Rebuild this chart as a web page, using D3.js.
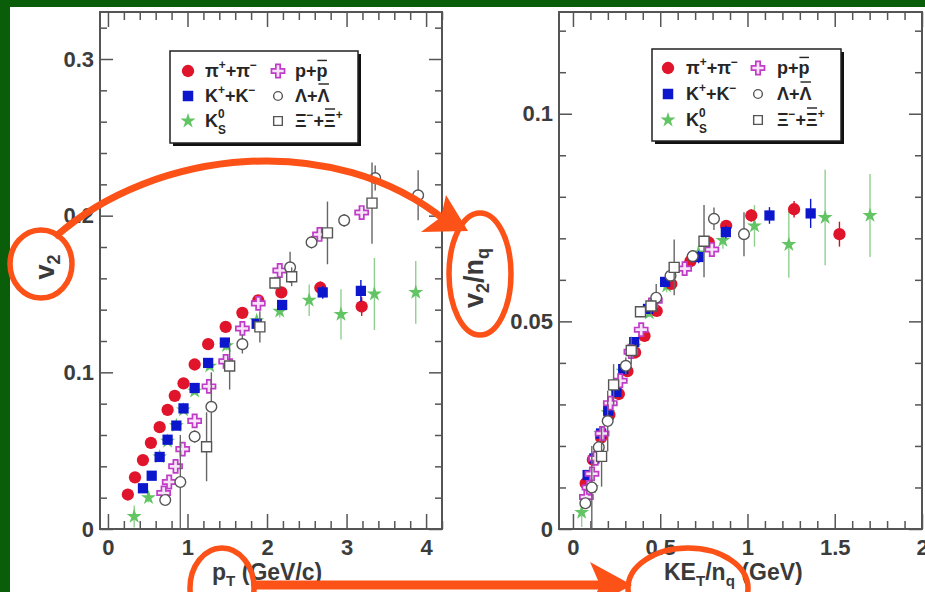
<!DOCTYPE html>
<html>
<head>
<meta charset="utf-8">
<script src="https://cdn.jsdelivr.net/npm/d3@7"></script>
<style>
  html, body { margin: 0; padding: 0; background: #fff; }
  svg { display: block; }
</style>
</head>
<body>
<svg id="chart" width="925" height="592"></svg>
<script>
// ---------- v2 versus pT (GeV/c) ----------
const pionPt   = [0.25, 0.34, 0.44, 0.54, 0.65, 0.75, 0.84, 0.95, 1.09, 1.26, 1.48, 1.69, 1.89, 2.18, 2.67, 3.19];
const pionV2   = [0.022, 0.033, 0.044, 0.055, 0.065, 0.076, 0.085, 0.093, 0.105, 0.118, 0.129, 0.138, 0.146, 0.151, 0.154, 0.142];
const pionErr  = [0.002, 0.002, 0.002, 0.002, 0.002, 0.002, 0.002, 0.002, 0.002, 0.002, 0.002, 0.002, 0.002, 0.003, 0.004, 0.006];

const kaonPt   = [0.44, 0.55, 0.65, 0.75, 0.86, 0.95, 1.09, 1.26, 1.47, 1.87, 2.19, 2.70, 3.18];
const kaonV2   = [0.026, 0.034, 0.046, 0.057, 0.066, 0.077, 0.090, 0.106, 0.119, 0.131, 0.143, 0.151, 0.152];
const kaonErr  = [0.002, 0.002, 0.002, 0.002, 0.002, 0.002, 0.002, 0.002, 0.002, 0.003, 0.003, 0.004, 0.007];

const k0sPt    = [0.33, 0.51, 0.65, 0.75, 0.86, 0.95, 1.09, 1.28, 1.49, 1.87, 2.16, 2.53, 2.93, 3.35, 3.87];
const k0sV2    = [0.008, 0.020, 0.046, 0.056, 0.066, 0.076, 0.088, 0.104, 0.117, 0.133, 0.139, 0.146, 0.137, 0.150, 0.151];
const k0sErr   = [0.007, 0.003, 0.002, 0.002, 0.002, 0.002, 0.002, 0.002, 0.003, 0.003, 0.004, 0.010, 0.016, 0.023, 0.020];

const protonPt  = [0.70, 0.77, 0.85, 0.94, 1.09, 1.27, 1.48, 1.69, 1.89, 2.16, 2.66, 3.19];
const protonV2  = [0.023, 0.030, 0.040, 0.051, 0.069, 0.091, 0.107, 0.128, 0.144, 0.165, 0.188, 0.202];
const protonErr = [0.002, 0.002, 0.002, 0.002, 0.002, 0.002, 0.002, 0.002, 0.002, 0.003, 0.004, 0.004];

const lambdaPt  = [0.72, 0.91, 1.09, 1.30, 1.69, 2.29, 2.56, 2.97, 3.36, 3.90];
const lambdaV2  = [0.0185, 0.030, 0.059, 0.078, 0.118, 0.167, 0.183, 0.197, 0.224, 0.213];
const lambdaErr = [0.003, 0.030, 0.004, 0.022, 0.006, 0.010, 0.004, 0.004, 0.008, 0.016];

const xiPt   = [1.24, 1.53, 1.91, 2.10, 2.31, 2.76, 3.32];
const xiV2   = [0.0525, 0.104, 0.129, 0.157, 0.161, 0.189, 0.208];
const xiErr  = [0.022, 0.015, 0.010, 0.004, 0.006, 0.020, 0.026];

// ---------- v2/nq versus KE_T/nq (GeV) ----------
const pionKE    = [0.073, 0.114, 0.161, 0.209, 0.263, 0.312, 0.356, 0.410, 0.480, 0.564, 0.673, 0.778, 0.878, 1.022, 1.267, 1.527];
const pionV2nq  = [0.011, 0.0167, 0.022, 0.0275, 0.0325, 0.038, 0.0425, 0.0465, 0.0525, 0.059, 0.0645, 0.069, 0.073, 0.0755, 0.077, 0.071];
const pionErrNq = [0.001, 0.001, 0.001, 0.001, 0.001, 0.001, 0.001, 0.001, 0.001, 0.001, 0.001, 0.001, 0.001, 0.0015, 0.002, 0.003];

const kaonKE    = [0.084, 0.123, 0.161, 0.202, 0.249, 0.288, 0.351, 0.430, 0.528, 0.720, 0.876, 1.126, 1.362];
const kaonV2nq  = [0.013, 0.017, 0.023, 0.0285, 0.033, 0.0385, 0.045, 0.053, 0.0595, 0.0655, 0.0715, 0.0755, 0.076];
const kaonErrNq = [0.001, 0.001, 0.001, 0.001, 0.001, 0.001, 0.001, 0.001, 0.001, 0.0015, 0.0015, 0.002, 0.0035];

const k0sKE     = [0.050, 0.107, 0.160, 0.201, 0.248, 0.287, 0.350, 0.438, 0.537, 0.719, 0.859, 1.040, 1.237, 1.445, 1.702];
const k0sV2nq   = [0.004, 0.010, 0.023, 0.028, 0.033, 0.038, 0.044, 0.052, 0.0585, 0.0665, 0.0695, 0.073, 0.0685, 0.075, 0.0755];
const k0sErrNq  = [0.0035, 0.0015, 0.001, 0.001, 0.001, 0.001, 0.001, 0.001, 0.0015, 0.0015, 0.002, 0.005, 0.008, 0.0115, 0.010];

const protonKE    = [0.077, 0.092, 0.109, 0.130, 0.167, 0.214, 0.271, 0.332, 0.391, 0.472, 0.640, 0.796];
const protonV2nq  = [0.0077, 0.010, 0.0133, 0.017, 0.023, 0.0303, 0.0357, 0.0427, 0.048, 0.055, 0.0627, 0.0673];
const protonErrNq = [0.0007, 0.0007, 0.0007, 0.0007, 0.0007, 0.0007, 0.0007, 0.0007, 0.0007, 0.001, 0.0013, 0.0013];

const lambdaKE    = [0.071, 0.108, 0.148, 0.199, 0.303, 0.477, 0.559, 0.686, 0.808, 0.980];
const lambdaV2nq  = [0.0062, 0.010, 0.0197, 0.026, 0.0393, 0.0557, 0.061, 0.0657, 0.0747, 0.071];
const lambdaErrNq = [0.001, 0.010, 0.0015, 0.0073, 0.002, 0.0033, 0.0015, 0.0015, 0.0027, 0.0053];

const xiKE    = [0.164, 0.233, 0.334, 0.387, 0.447, 0.580, 0.751];
const xiV2nq  = [0.0175, 0.0347, 0.043, 0.0523, 0.0537, 0.063, 0.0693];
const xiErrNq = [0.0073, 0.005, 0.0033, 0.0013, 0.002, 0.0067, 0.0087];

// ---------- tick labels ----------
const leftXTicks  = [0, 1, 2, 3, 4];
const leftYTicks  = [0, 0.1, 0.2, 0.3];
const rightXTicks = [0, 0.5, 1, 1.5, 2];
const rightYTicks = [0, 0.05, 0.1];

// ---------- drawing ----------
const FONT = "'Liberation Sans', Arial, Helvetica, sans-serif";
const ORANGE = "#fc5117";
const svg = d3.select("#chart");

// green slide border and white page
svg.append("rect").attr("width", 925).attr("height", 592).attr("fill", "#0a5e0a");
svg.append("rect").attr("x", 10).attr("y", 7).attr("width", 915).attr("height", 585).attr("fill", "#ffffff");

const xL = d3.scaleLinear().domain([-0.1, 4.2]).range([100, 442]);
const yL = d3.scaleLinear().domain([0, 0.33]).range([529, 12]);
const xR = d3.scaleLinear().domain([-0.08, 2.0]).range([559, 922]);
const yR = d3.scaleLinear().domain([0, 0.1245]).range([529, 12]);

// text with sub/superscripts and overbars, laid out piece by piece
function rich(parent, segs, o) {
  const fs = o.size;
  const g = parent.append("g").attr("transform", o.transform || null);
  const inner = g.append("g");
  let cx = 0, stackW = 0;
  segs.forEach(s => {
    const small = s.sup || s.sub;
    const size = small ? fs * 0.66 : fs;
    const dy = s.sup ? -fs * (s.stack ? 0.5 : 0.42) : s.sub ? fs * (s.low ? 0.4 : 0.24) : 0;
    const t = inner.append("text")
      .attr("x", cx).attr("y", dy)
      .attr("font-family", FONT).attr("font-size", size)
      .attr("font-weight", o.weight || "normal")
      .attr("fill", o.fill || "#222")
      .text(s.t);
    const w = t.node().getComputedTextLength();
    if (s.bar) {
      inner.append("line")
        .attr("x1", cx + w * 0.08).attr("x2", cx + w * 0.95)
        .attr("y1", -fs * s.bar).attr("y2", -fs * s.bar)
        .attr("stroke", o.fill || "#222").attr("stroke-width", fs * 0.08);
    }
    if (s.stack) { stackW = w; }
    else { cx += Math.max(w, stackW) + (s.gap || 0); stackW = 0; }
  });
  const shift = o.anchor === "middle" ? -cx / 2 : o.anchor === "end" ? -cx : 0;
  inner.attr("transform", `translate(${shift},0)`);
  return g;
}

// marker styles
const STY = {
  pion:   { sym: d3.symbolCircle, size: 118, fill: "#e0142a", stroke: "none", err: "#d01020" },
  kaon:   { sym: d3.symbolSquare, size: 105, fill: "#0c16cc", stroke: "none", err: "#0c16cc" },
  k0s:    { sym: d3.symbolStar,   size: 70,  fill: "#62c462", stroke: "none", err: "#8fd08f" },
  proton: { sym: d3.symbolCross,  size: 95,  fill: "#f8e4f8", stroke: "#c03cc8", err: "#c03cc8", sw: 1.7 },
  lambda: { sym: d3.symbolCircle, size: 90,  fill: "#ffffff", stroke: "#555555", err: "#666666", sw: 1.4 },
  xi:     { sym: d3.symbolSquare, size: 100, fill: "#ffffff", stroke: "#555555", err: "#666666", sw: 1.4 }
};

function series(g, xs, ys, es, xS, yS, st) {
  const d = xs.map((x, i) => ({ x, y: ys[i], e: es[i] }));
  g.append("g").selectAll("line").data(d).join("line")
    .attr("x1", p => xS(p.x)).attr("x2", p => xS(p.x))
    .attr("y1", p => yS(p.y - p.e)).attr("y2", p => yS(p.y + p.e))
    .attr("stroke", st.err).attr("stroke-width", 1.4);
  g.append("g").selectAll("path").data(d).join("path")
    .attr("transform", p => `translate(${xS(p.x)},${yS(p.y)})`)
    .attr("d", d3.symbol().type(st.sym).size(st.size))
    .attr("fill", st.fill).attr("stroke", st.stroke).attr("stroke-width", st.sw || 0);
}

function frame(xS, yS, xMajor, xMinor, yMajor, yMinor, xFmt, yFmt) {
  const [x0, x1] = xS.range(), [y0, y1] = yS.range();
  const g = svg.append("g");
  const tickStyle = sel => {
    sel.select(".domain").remove();
    sel.selectAll(".tick line").attr("stroke", "#555").attr("stroke-width", 1.5);
    sel.selectAll(".tick text").attr("font-family", FONT).attr("font-size", 22)
      .attr("font-weight", "bold").attr("fill", "#3c3c3c");
  };
  // bottom and top
  g.append("g").attr("transform", `translate(0,${y0})`)
    .call(d3.axisBottom(xS).tickValues(xMajor).tickSize(-15).tickPadding(10).tickFormat(xFmt)).call(tickStyle);
  g.append("g").attr("transform", `translate(0,${y0})`)
    .call(d3.axisBottom(xS).tickValues(xMinor).tickSize(-8).tickFormat("")).call(tickStyle);
  g.append("g").attr("transform", `translate(0,${y1})`)
    .call(d3.axisTop(xS).tickValues(xMajor).tickSize(-15).tickFormat("")).call(tickStyle);
  g.append("g").attr("transform", `translate(0,${y1})`)
    .call(d3.axisTop(xS).tickValues(xMinor).tickSize(-8).tickFormat("")).call(tickStyle);
  // left and right
  g.append("g").attr("transform", `translate(${x0},0)`)
    .call(d3.axisLeft(yS).tickValues(yMajor).tickSize(-13).tickPadding(6).tickFormat(yFmt)).call(tickStyle);
  g.append("g").attr("transform", `translate(${x0},0)`)
    .call(d3.axisLeft(yS).tickValues(yMinor).tickSize(-7).tickFormat("")).call(tickStyle);
  g.append("g").attr("transform", `translate(${x1},0)`)
    .call(d3.axisRight(yS).tickValues(yMajor).tickSize(-13).tickFormat("")).call(tickStyle);
  g.append("g").attr("transform", `translate(${x1},0)`)
    .call(d3.axisRight(yS).tickValues(yMinor).tickSize(-7).tickFormat("")).call(tickStyle);
  g.append("rect").attr("x", x0).attr("y", y1).attr("width", x1 - x0).attr("height", y0 - y1)
    .attr("fill", "none").attr("stroke", "#555").attr("stroke-width", 2);
}

const minors = (lo, hi, step, majors) =>
  d3.range(lo, hi + step / 2, step).map(v => +v.toFixed(4)).filter(v => !majors.some(m => Math.abs(m - v) < 1e-6));

frame(xL, yL, leftXTicks, minors(0.2, 4.2, 0.2, leftXTicks), leftYTicks, minors(0.02, 0.32, 0.02, leftYTicks),
      d => d3.format("d")(d), d => d === 0 ? "0" : d3.format(".1f")(d));
frame(xR, yR, rightXTicks, minors(0.1, 1.9, 0.1, rightXTicks), rightYTicks, minors(0.01, 0.12, 0.01, rightYTicks),
      d => String(d), d => String(d));

// data marks
const gl = svg.append("g");
series(gl, k0sPt, k0sV2, k0sErr, xL, yL, STY.k0s);
series(gl, pionPt, pionV2, pionErr, xL, yL, STY.pion);
series(gl, kaonPt, kaonV2, kaonErr, xL, yL, STY.kaon);
series(gl, protonPt, protonV2, protonErr, xL, yL, STY.proton);
series(gl, lambdaPt, lambdaV2, lambdaErr, xL, yL, STY.lambda);
series(gl, xiPt, xiV2, xiErr, xL, yL, STY.xi);

const gr = svg.append("g");
series(gr, k0sKE, k0sV2nq, k0sErrNq, xR, yR, STY.k0s);
series(gr, pionKE, pionV2nq, pionErrNq, xR, yR, STY.pion);
series(gr, kaonKE, kaonV2nq, kaonErrNq, xR, yR, STY.kaon);
series(gr, protonKE, protonV2nq, protonErrNq, xR, yR, STY.proton);
series(gr, lambdaKE, lambdaV2nq, lambdaErrNq, xR, yR, STY.lambda);
series(gr, xiKE, xiV2nq, xiErrNq, xR, yR, STY.xi);

// legends
const legendRows = [
  [{ key: "pion", segs: [{ t: "π" }, { t: "+", sup: 1 }, { t: "+" }, { t: "π" }, { t: "−", sup: 1 }] },
   { key: "proton", segs: [{ t: "p" }, { t: "+" }, { t: "p", bar: 0.92 }] }],
  [{ key: "kaon", segs: [{ t: "K" }, { t: "+", sup: 1 }, { t: "+" }, { t: "K" }, { t: "−", sup: 1 }] },
   { key: "lambda", segs: [{ t: "Λ" }, { t: "+" }, { t: "Λ", bar: 1.0 }] }],
  [{ key: "k0s", segs: [{ t: "K" }, { t: "0", sup: 1, stack: 1 }, { t: "S", sub: 1, low: 1 }] },
   { key: "xi", segs: [{ t: "Ξ" }, { t: "−", sup: 1 }, { t: "+" }, { t: "Ξ", bar: 1.0 }, { t: "+", sup: 1 }] }]
];
const legendMarkSize = { pion: 120, kaon: 110, k0s: 70, proton: 95, lambda: 60, xi: 75 };

function legend(bx, by, bw, bh, rowY, colMark, colText) {
  const g = svg.append("g");
  g.append("rect").attr("x", bx + 3).attr("y", by + 3).attr("width", bw).attr("height", bh).attr("fill", "#111");
  g.append("rect").attr("x", bx).attr("y", by).attr("width", bw).attr("height", bh)
    .attr("fill", "#fff").attr("stroke", "#222").attr("stroke-width", 1.5);
  legendRows.forEach((row, r) => {
    row.forEach((item, c) => {
      const st = STY[item.key];
      g.append("path")
        .attr("transform", `translate(${colMark[c]},${rowY[r]})`)
        .attr("d", d3.symbol().type(st.sym).size(legendMarkSize[item.key]))
        .attr("fill", st.fill).attr("stroke", st.stroke).attr("stroke-width", st.sw || 0);
      rich(g, item.segs, { size: 18, weight: "bold", fill: "#262626", transform: `translate(${colText[c]},${rowY[r] + 6})` });
    });
  });
}
legend(170, 51, 188, 92, [71, 96, 121], [188, 278], [205, 295]);
legend(652, 49, 189, 92, [68, 94, 120], [668, 758], [686, 777]);

// axis titles
const TS = { size: 27, weight: "bold", fill: "#3a3a3a", anchor: "middle" };
rich(svg, [{ t: "v" }, { t: "2", sub: 1 }], { ...TS, transform: "translate(54,267) rotate(-90)" });
rich(svg, [{ t: "v" }, { t: "2", sub: 1 }, { t: "/" }, { t: "n" }, { t: "q", sub: 1 }], { ...TS, transform: "translate(483,278) rotate(-90)" });
const XS = { size: 23, weight: "bold", fill: "#3a3a3a" };
rich(svg, [{ t: "p" }, { t: "T", sub: 1 }, { t: "\u00a0(GeV/c)" }], { ...XS, transform: "translate(212,580)" });
rich(svg, [{ t: "KE" }, { t: "T", sub: 1 }, { t: "/n" }, { t: "q", sub: 1 }, { t: "\u00a0(GeV)" }], { ...XS, transform: "translate(664,580)" });

// orange call-outs
const ann = svg.append("g").attr("fill", "none").attr("stroke", ORANGE).attr("stroke-width", 5.5);
ann.append("ellipse").attr("cx", 41).attr("cy", 264).attr("rx", 31).attr("ry", 34);
ann.append("ellipse").attr("cx", 480).attr("cy", 274).attr("rx", 31).attr("ry", 61);
ann.append("ellipse").attr("cx", 222).attr("cy", 588).attr("rx", 32).attr("ry", 40);
ann.append("ellipse").attr("cx", 688).attr("cy", 588).attr("rx", 60).attr("ry", 40);
ann.append("path").attr("d", "M55,237 C155,148 335,130 446,221").attr("stroke-width", 7);
ann.append("line").attr("x1", 254).attr("y1", 585).attr("x2", 602).attr("y2", 585).attr("stroke-width", 9);
svg.append("path").attr("fill", ORANGE)
  .attr("d", "M468,231 L446,195 L441,217 L421,232 Z");
svg.append("path").attr("fill", ORANGE)
  .attr("d", "M632,585 L590,562 L600,585 L590,608 Z");
</script>
</body>
</html>
